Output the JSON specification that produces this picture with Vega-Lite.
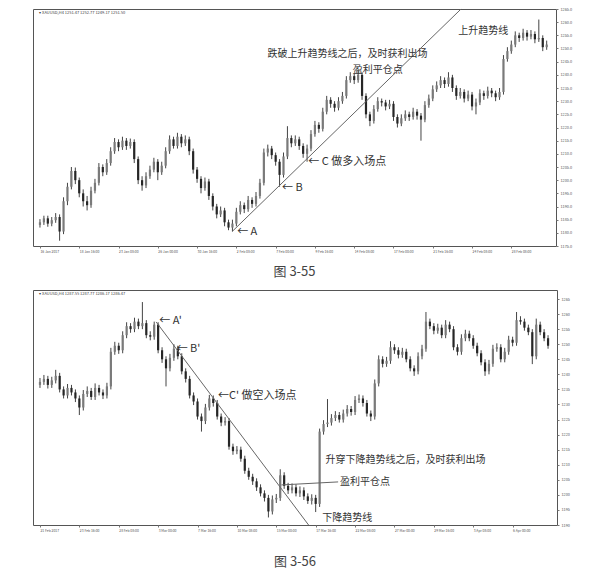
{
"$schema": "https://vega.github.io/schema/vega-lite/v6.json",
"background": "#ffffff",
"padding": {"left": 32, "top": 6, "right": 0, "bottom": 0},
"spacing": 9,
"config": {
  "view": {"stroke": "#555555", "strokeWidth": 1},
  "font": "Noto Sans CJK SC",
  "axis": {"grid": false, "domain": false, "ticks": true, "tickSize": 2, "tickColor": "#777777", "labelFontSize": 3.4, "labelColor": "#555555", "title": null, "labelPadding": 1},
  "title": {"fontSize": 13, "fontWeight": "normal", "color": "#444444", "font": "Noto Sans CJK SC"}
},
"datasets": {
"top": [
{"i":0,"o":1183.0,"h":1185.2,"l":1182.0,"c":1184.0},{"i":1,"o":1184.0,"h":1186.5,"l":1183.0,"c":1185.5},{"i":2,"o":1185.5,"h":1186.5,"l":1182.3,"c":1183.5},{"i":3,"o":1183.5,"h":1186.0,"l":1182.5,"c":1184.8},{"i":4,"o":1184.8,"h":1187.5,"l":1183.8,"c":1186.0},
{"i":5,"o":1186.0,"h":1187.0,"l":1177.0,"c":1180.5},{"i":6,"o":1180.5,"h":1193.5,"l":1179.5,"c":1192.0},{"i":7,"o":1192.0,"h":1199.0,"l":1190.5,"c":1197.5},{"i":8,"o":1197.5,"h":1205.0,"l":1196.5,"c":1203.5},{"i":9,"o":1203.5,"h":1204.8,"l":1198.5,"c":1200.0},
{"i":10,"o":1200.0,"h":1201.0,"l":1193.5,"c":1195.0},{"i":11,"o":1195.0,"h":1196.5,"l":1190.0,"c":1192.0},{"i":12,"o":1192.0,"h":1194.0,"l":1188.5,"c":1190.5},{"i":13,"o":1190.5,"h":1197.5,"l":1189.5,"c":1196.0},{"i":14,"o":1196.0,"h":1200.5,"l":1195.0,"c":1199.0},
{"i":15,"o":1199.0,"h":1206.5,"l":1198.0,"c":1205.0},{"i":16,"o":1205.0,"h":1206.0,"l":1201.5,"c":1203.0},{"i":17,"o":1203.0,"h":1208.0,"l":1202.0,"c":1206.5},{"i":18,"o":1206.5,"h":1212.5,"l":1205.5,"c":1211.0},{"i":19,"o":1211.0,"h":1216.0,"l":1210.0,"c":1214.5},
{"i":20,"o":1214.5,"h":1215.5,"l":1211.0,"c":1212.5},{"i":21,"o":1212.5,"h":1216.5,"l":1211.5,"c":1215.0},{"i":22,"o":1215.0,"h":1216.0,"l":1211.5,"c":1213.0},{"i":23,"o":1213.0,"h":1215.8,"l":1212.0,"c":1214.5},{"i":24,"o":1214.5,"h":1215.5,"l":1206.5,"c":1208.0},
{"i":25,"o":1208.0,"h":1209.0,"l":1198.5,"c":1200.0},{"i":26,"o":1200.0,"h":1201.5,"l":1196.0,"c":1198.0},{"i":27,"o":1198.0,"h":1203.0,"l":1197.0,"c":1201.5},{"i":28,"o":1201.5,"h":1205.5,"l":1200.5,"c":1204.0},{"i":29,"o":1204.0,"h":1208.5,"l":1203.0,"c":1207.0},
{"i":30,"o":1207.0,"h":1208.0,"l":1200.0,"c":1203.0},{"i":31,"o":1203.0,"h":1207.0,"l":1202.0,"c":1205.5},{"i":32,"o":1205.5,"h":1212.5,"l":1204.5,"c":1211.0},{"i":33,"o":1211.0,"h":1217.0,"l":1210.0,"c":1215.5},{"i":34,"o":1215.5,"h":1216.5,"l":1212.0,"c":1213.0},
{"i":35,"o":1213.0,"h":1218.0,"l":1212.0,"c":1216.5},{"i":36,"o":1216.5,"h":1217.5,"l":1212.5,"c":1214.0},{"i":37,"o":1214.0,"h":1217.0,"l":1213.0,"c":1215.5},{"i":38,"o":1215.5,"h":1216.5,"l":1209.5,"c":1211.0},{"i":39,"o":1211.0,"h":1212.0,"l":1202.5,"c":1204.0},
{"i":40,"o":1204.0,"h":1205.0,"l":1199.0,"c":1200.5},{"i":41,"o":1200.5,"h":1201.5,"l":1195.0,"c":1197.0},{"i":42,"o":1197.0,"h":1201.0,"l":1196.0,"c":1199.5},{"i":43,"o":1199.5,"h":1200.5,"l":1192.5,"c":1194.0},{"i":44,"o":1194.0,"h":1195.0,"l":1188.5,"c":1190.0},
{"i":45,"o":1190.0,"h":1191.0,"l":1185.5,"c":1187.0},{"i":46,"o":1187.0,"h":1190.0,"l":1186.0,"c":1188.5},{"i":47,"o":1188.5,"h":1189.5,"l":1182.5,"c":1184.0},{"i":48,"o":1184.0,"h":1185.0,"l":1181.0,"c":1182.0},{"i":49,"o":1182.0,"h":1185.0,"l":1180.5,"c":1183.5},
{"i":50,"o":1183.5,"h":1189.5,"l":1182.5,"c":1188.0},{"i":51,"o":1188.0,"h":1192.0,"l":1187.0,"c":1190.5},{"i":52,"o":1190.5,"h":1191.5,"l":1187.5,"c":1189.0},{"i":53,"o":1189.0,"h":1194.0,"l":1188.0,"c":1192.5},{"i":54,"o":1192.5,"h":1193.5,"l":1189.5,"c":1191.0},
{"i":55,"o":1191.0,"h":1195.5,"l":1190.0,"c":1194.0},{"i":56,"o":1194.0,"h":1200.5,"l":1193.0,"c":1199.0},{"i":57,"o":1199.0,"h":1212.0,"l":1198.0,"c":1210.5},{"i":58,"o":1210.5,"h":1213.5,"l":1209.0,"c":1212.0},{"i":59,"o":1212.0,"h":1213.0,"l":1208.0,"c":1209.5},
{"i":60,"o":1209.5,"h":1210.5,"l":1205.5,"c":1207.0},{"i":61,"o":1207.0,"h":1208.0,"l":1197.5,"c":1202.0},{"i":62,"o":1202.0,"h":1210.5,"l":1201.0,"c":1209.0},{"i":63,"o":1209.0,"h":1220.5,"l":1208.0,"c":1216.0},{"i":64,"o":1216.0,"h":1217.0,"l":1212.5,"c":1214.0},
{"i":65,"o":1214.0,"h":1217.0,"l":1213.0,"c":1215.5},{"i":66,"o":1215.5,"h":1216.5,"l":1211.5,"c":1213.0},{"i":67,"o":1213.0,"h":1214.0,"l":1208.5,"c":1210.0},{"i":68,"o":1210.0,"h":1213.5,"l":1207.0,"c":1212.0},{"i":69,"o":1212.0,"h":1219.0,"l":1211.0,"c":1217.5},
{"i":70,"o":1217.5,"h":1222.5,"l":1216.5,"c":1221.0},{"i":71,"o":1221.0,"h":1222.0,"l":1218.0,"c":1219.5},{"i":72,"o":1219.5,"h":1227.5,"l":1218.5,"c":1226.0},{"i":73,"o":1226.0,"h":1232.0,"l":1225.0,"c":1230.5},{"i":74,"o":1230.5,"h":1231.5,"l":1227.5,"c":1229.0},
{"i":75,"o":1229.0,"h":1230.0,"l":1226.0,"c":1227.5},{"i":76,"o":1227.5,"h":1231.5,"l":1226.5,"c":1230.0},{"i":77,"o":1230.0,"h":1233.5,"l":1229.0,"c":1232.0},{"i":78,"o":1232.0,"h":1239.5,"l":1231.0,"c":1238.0},{"i":79,"o":1238.0,"h":1241.0,"l":1237.0,"c":1239.5},
{"i":80,"o":1239.5,"h":1240.5,"l":1236.5,"c":1238.0},{"i":81,"o":1238.0,"h":1242.0,"l":1237.0,"c":1240.0},{"i":82,"o":1240.0,"h":1241.0,"l":1230.5,"c":1232.0},{"i":83,"o":1232.0,"h":1233.0,"l":1223.5,"c":1225.0},{"i":84,"o":1225.0,"h":1226.0,"l":1220.5,"c":1222.5},
{"i":85,"o":1222.5,"h":1228.5,"l":1221.5,"c":1227.0},{"i":86,"o":1227.0,"h":1231.5,"l":1226.0,"c":1230.0},{"i":87,"o":1230.0,"h":1231.0,"l":1228.0,"c":1229.5},{"i":88,"o":1229.5,"h":1230.5,"l":1226.5,"c":1228.0},{"i":89,"o":1228.0,"h":1230.5,"l":1227.0,"c":1229.0},
{"i":90,"o":1229.0,"h":1230.0,"l":1222.5,"c":1224.0},{"i":91,"o":1224.0,"h":1225.0,"l":1220.0,"c":1221.5},{"i":92,"o":1221.5,"h":1225.0,"l":1220.5,"c":1223.5},{"i":93,"o":1223.5,"h":1226.5,"l":1222.5,"c":1225.0},{"i":94,"o":1225.0,"h":1226.0,"l":1222.5,"c":1224.0},
{"i":95,"o":1224.0,"h":1227.5,"l":1223.0,"c":1226.0},{"i":96,"o":1226.0,"h":1227.0,"l":1223.0,"c":1224.5},{"i":97,"o":1224.5,"h":1225.5,"l":1215.0,"c":1223.0},{"i":98,"o":1223.0,"h":1230.0,"l":1222.0,"c":1228.5},{"i":99,"o":1228.5,"h":1232.5,"l":1227.5,"c":1231.0},
{"i":100,"o":1231.0,"h":1236.0,"l":1230.0,"c":1234.5},{"i":101,"o":1234.5,"h":1237.5,"l":1233.5,"c":1236.0},{"i":102,"o":1236.0,"h":1239.5,"l":1235.0,"c":1238.0},{"i":103,"o":1238.0,"h":1239.0,"l":1235.0,"c":1236.5},{"i":104,"o":1236.5,"h":1241.0,"l":1235.5,"c":1239.0},
{"i":105,"o":1239.0,"h":1240.0,"l":1233.5,"c":1235.0},{"i":106,"o":1235.0,"h":1236.0,"l":1230.5,"c":1232.0},{"i":107,"o":1232.0,"h":1235.0,"l":1231.0,"c":1233.5},{"i":108,"o":1233.5,"h":1234.5,"l":1229.5,"c":1231.0},{"i":109,"o":1231.0,"h":1234.0,"l":1230.0,"c":1232.5},
{"i":110,"o":1232.5,"h":1233.5,"l":1226.5,"c":1228.0},{"i":111,"o":1228.0,"h":1231.0,"l":1225.0,"c":1229.5},{"i":112,"o":1229.5,"h":1234.5,"l":1228.5,"c":1233.0},{"i":113,"o":1233.0,"h":1234.0,"l":1230.5,"c":1232.0},{"i":114,"o":1232.0,"h":1235.5,"l":1231.0,"c":1234.0},
{"i":115,"o":1234.0,"h":1235.0,"l":1231.5,"c":1233.0},{"i":116,"o":1233.0,"h":1234.0,"l":1230.0,"c":1231.5},{"i":117,"o":1231.5,"h":1235.0,"l":1230.5,"c":1233.5},{"i":118,"o":1233.5,"h":1247.5,"l":1232.5,"c":1246.0},{"i":119,"o":1246.0,"h":1250.5,"l":1245.0,"c":1249.0},
{"i":120,"o":1249.0,"h":1253.0,"l":1248.0,"c":1251.5},{"i":121,"o":1251.5,"h":1256.5,"l":1250.5,"c":1255.0},{"i":122,"o":1255.0,"h":1256.0,"l":1252.5,"c":1254.0},{"i":123,"o":1254.0,"h":1257.5,"l":1253.0,"c":1256.0},{"i":124,"o":1256.0,"h":1257.0,"l":1253.0,"c":1254.5},
{"i":125,"o":1254.5,"h":1257.0,"l":1253.5,"c":1255.5},{"i":126,"o":1255.5,"h":1256.5,"l":1252.0,"c":1253.5},{"i":127,"o":1253.5,"h":1261.0,"l":1252.5,"c":1254.0},{"i":128,"o":1254.0,"h":1255.0,"l":1249.0,"c":1250.5},{"i":129,"o":1250.5,"h":1253.0,"l":1249.5,"c":1251.5}
],
"bot": [
{"i":0,"o":1236.5,"h":1238.8,"l":1235.5,"c":1237.5},{"i":1,"o":1237.5,"h":1239.8,"l":1236.5,"c":1238.5},{"i":2,"o":1238.5,"h":1239.5,"l":1235.3,"c":1236.5},{"i":3,"o":1236.5,"h":1239.2,"l":1235.5,"c":1238.0},{"i":4,"o":1238.0,"h":1241.5,"l":1237.0,"c":1239.5},
{"i":5,"o":1239.5,"h":1240.5,"l":1234.0,"c":1235.0},{"i":6,"o":1235.0,"h":1236.0,"l":1232.0,"c":1233.0},{"i":7,"o":1233.0,"h":1236.8,"l":1232.0,"c":1235.5},{"i":8,"o":1235.5,"h":1236.5,"l":1233.0,"c":1234.0},{"i":9,"o":1234.0,"h":1235.0,"l":1230.8,"c":1232.0},
{"i":10,"o":1232.0,"h":1233.0,"l":1226.5,"c":1229.0},{"i":11,"o":1229.0,"h":1234.8,"l":1228.0,"c":1233.5},{"i":12,"o":1233.5,"h":1236.0,"l":1232.5,"c":1234.5},{"i":13,"o":1234.5,"h":1235.5,"l":1231.5,"c":1232.5},{"i":14,"o":1232.5,"h":1237.0,"l":1231.5,"c":1235.5},
{"i":15,"o":1235.5,"h":1236.5,"l":1233.0,"c":1234.0},{"i":16,"o":1234.0,"h":1235.0,"l":1231.8,"c":1233.0},{"i":17,"o":1233.0,"h":1237.2,"l":1232.0,"c":1236.0},{"i":18,"o":1236.0,"h":1248.8,"l":1235.0,"c":1247.5},{"i":19,"o":1247.5,"h":1250.8,"l":1246.5,"c":1249.5},
{"i":20,"o":1249.5,"h":1250.5,"l":1246.8,"c":1248.0},{"i":21,"o":1248.0,"h":1254.3,"l":1247.0,"c":1253.0},{"i":22,"o":1253.0,"h":1257.3,"l":1252.0,"c":1256.0},{"i":23,"o":1256.0,"h":1257.0,"l":1253.8,"c":1255.0},{"i":24,"o":1255.0,"h":1258.8,"l":1254.0,"c":1257.5},
{"i":25,"o":1257.5,"h":1258.5,"l":1255.0,"c":1256.0},{"i":26,"o":1256.0,"h":1264.0,"l":1255.0,"c":1257.0},{"i":27,"o":1257.0,"h":1258.0,"l":1252.0,"c":1253.0},{"i":28,"o":1253.0,"h":1254.3,"l":1251.3,"c":1252.5},{"i":29,"o":1252.5,"h":1257.5,"l":1251.5,"c":1256.5},
{"i":30,"o":1256.5,"h":1257.3,"l":1247.0,"c":1248.0},{"i":31,"o":1248.0,"h":1249.0,"l":1243.8,"c":1245.0},{"i":32,"o":1245.0,"h":1246.0,"l":1236.0,"c":1242.0},{"i":33,"o":1242.0,"h":1246.8,"l":1241.0,"c":1245.5},{"i":34,"o":1245.5,"h":1250.0,"l":1244.5,"c":1248.5},
{"i":35,"o":1248.5,"h":1249.5,"l":1245.0,"c":1246.0},{"i":36,"o":1246.0,"h":1247.0,"l":1240.0,"c":1241.0},{"i":37,"o":1241.0,"h":1242.0,"l":1237.3,"c":1238.5},{"i":38,"o":1238.5,"h":1239.5,"l":1232.0,"c":1233.0},{"i":39,"o":1233.0,"h":1234.0,"l":1229.8,"c":1231.0},
{"i":40,"o":1231.0,"h":1232.0,"l":1225.0,"c":1226.0},{"i":41,"o":1226.0,"h":1227.0,"l":1221.0,"c":1224.5},{"i":42,"o":1224.5,"h":1230.2,"l":1223.5,"c":1229.0},{"i":43,"o":1229.0,"h":1233.2,"l":1228.0,"c":1232.0},{"i":44,"o":1232.0,"h":1233.0,"l":1229.3,"c":1230.5},
{"i":45,"o":1230.5,"h":1231.5,"l":1225.0,"c":1226.0},{"i":46,"o":1226.0,"h":1227.0,"l":1222.8,"c":1224.0},{"i":47,"o":1224.0,"h":1225.8,"l":1223.0,"c":1224.5},{"i":48,"o":1224.5,"h":1225.5,"l":1215.0,"c":1216.0},{"i":49,"o":1216.0,"h":1217.0,"l":1213.3,"c":1214.5},
{"i":50,"o":1214.5,"h":1216.2,"l":1213.5,"c":1215.0},{"i":51,"o":1215.0,"h":1216.0,"l":1211.0,"c":1212.0},{"i":52,"o":1212.0,"h":1213.0,"l":1207.0,"c":1208.0},{"i":53,"o":1208.0,"h":1209.0,"l":1205.0,"c":1206.0},{"i":54,"o":1206.0,"h":1207.0,"l":1203.3,"c":1204.5},
{"i":55,"o":1204.5,"h":1205.5,"l":1201.3,"c":1202.5},{"i":56,"o":1202.5,"h":1203.5,"l":1199.5,"c":1200.5},{"i":57,"o":1200.5,"h":1201.5,"l":1197.8,"c":1199.0},{"i":58,"o":1199.0,"h":1200.0,"l":1192.5,"c":1194.5},{"i":59,"o":1194.5,"h":1199.8,"l":1193.5,"c":1198.5},
{"i":60,"o":1198.5,"h":1200.3,"l":1197.3,"c":1199.0},{"i":61,"o":1199.0,"h":1208.5,"l":1198.0,"c":1206.5},{"i":62,"o":1206.5,"h":1207.5,"l":1202.0,"c":1203.0},{"i":63,"o":1203.0,"h":1204.0,"l":1200.3,"c":1201.5},{"i":64,"o":1201.5,"h":1203.8,"l":1200.5,"c":1202.5},
{"i":65,"o":1202.5,"h":1203.5,"l":1199.5,"c":1200.5},{"i":66,"o":1200.5,"h":1202.8,"l":1199.3,"c":1201.5},{"i":67,"o":1201.5,"h":1202.5,"l":1198.3,"c":1199.5},{"i":68,"o":1199.5,"h":1200.5,"l":1197.0,"c":1198.0},{"i":69,"o":1198.0,"h":1200.2,"l":1196.8,"c":1199.0},
{"i":70,"o":1199.0,"h":1200.0,"l":1194.3,"c":1197.0},{"i":71,"o":1197.0,"h":1222.0,"l":1196.0,"c":1221.0},{"i":72,"o":1221.0,"h":1224.8,"l":1220.0,"c":1223.5},{"i":73,"o":1223.5,"h":1231.8,"l":1222.5,"c":1224.0},{"i":74,"o":1224.0,"h":1226.8,"l":1223.0,"c":1225.5},
{"i":75,"o":1225.5,"h":1227.8,"l":1224.5,"c":1226.5},{"i":76,"o":1226.5,"h":1227.5,"l":1224.0,"c":1225.0},{"i":77,"o":1225.0,"h":1228.3,"l":1224.0,"c":1227.0},{"i":78,"o":1227.0,"h":1229.8,"l":1226.0,"c":1228.5},{"i":79,"o":1228.5,"h":1229.5,"l":1226.3,"c":1227.5},
{"i":80,"o":1227.5,"h":1232.8,"l":1226.5,"c":1231.5},{"i":81,"o":1231.5,"h":1233.3,"l":1230.5,"c":1232.0},{"i":82,"o":1232.0,"h":1233.0,"l":1229.3,"c":1230.5},{"i":83,"o":1230.5,"h":1231.5,"l":1226.0,"c":1227.0},{"i":84,"o":1227.0,"h":1228.0,"l":1224.5,"c":1226.0},
{"i":85,"o":1226.0,"h":1238.3,"l":1225.0,"c":1237.0},{"i":86,"o":1237.0,"h":1246.3,"l":1236.0,"c":1245.0},{"i":87,"o":1245.0,"h":1246.0,"l":1242.3,"c":1243.5},{"i":88,"o":1243.5,"h":1245.8,"l":1242.5,"c":1244.5},{"i":89,"o":1244.5,"h":1251.0,"l":1243.5,"c":1249.0},
{"i":90,"o":1249.0,"h":1250.0,"l":1246.8,"c":1248.0},{"i":91,"o":1248.0,"h":1249.0,"l":1245.3,"c":1246.5},{"i":92,"o":1246.5,"h":1248.8,"l":1245.5,"c":1247.5},{"i":93,"o":1247.5,"h":1248.5,"l":1244.0,"c":1245.0},{"i":94,"o":1245.0,"h":1246.0,"l":1241.0,"c":1242.0},
{"i":95,"o":1242.0,"h":1243.0,"l":1239.5,"c":1241.0},{"i":96,"o":1241.0,"h":1247.3,"l":1240.0,"c":1246.0},{"i":97,"o":1246.0,"h":1249.8,"l":1245.0,"c":1248.5},{"i":98,"o":1248.5,"h":1260.7,"l":1247.5,"c":1257.5},{"i":99,"o":1257.5,"h":1258.5,"l":1255.0,"c":1256.0},
{"i":100,"o":1256.0,"h":1257.0,"l":1253.3,"c":1254.5},{"i":101,"o":1254.5,"h":1256.8,"l":1253.5,"c":1255.5},{"i":102,"o":1255.5,"h":1256.5,"l":1252.0,"c":1253.0},{"i":103,"o":1253.0,"h":1258.0,"l":1252.0,"c":1256.5},{"i":104,"o":1256.5,"h":1257.5,"l":1254.0,"c":1255.0},
{"i":105,"o":1255.0,"h":1256.0,"l":1248.0,"c":1249.0},{"i":106,"o":1249.0,"h":1250.0,"l":1246.3,"c":1247.5},{"i":107,"o":1247.5,"h":1253.3,"l":1246.5,"c":1252.0},{"i":108,"o":1252.0,"h":1254.8,"l":1251.0,"c":1253.5},{"i":109,"o":1253.5,"h":1254.5,"l":1251.0,"c":1252.0},
{"i":110,"o":1252.0,"h":1253.0,"l":1248.5,"c":1249.5},{"i":111,"o":1249.5,"h":1250.5,"l":1246.0,"c":1247.0},{"i":112,"o":1247.0,"h":1248.0,"l":1243.0,"c":1244.0},{"i":113,"o":1244.0,"h":1245.0,"l":1239.5,"c":1241.0},{"i":114,"o":1241.0,"h":1244.8,"l":1240.0,"c":1243.5},
{"i":115,"o":1243.5,"h":1249.8,"l":1242.5,"c":1248.5},{"i":116,"o":1248.5,"h":1250.3,"l":1247.5,"c":1249.0},{"i":117,"o":1249.0,"h":1250.0,"l":1244.0,"c":1245.0},{"i":118,"o":1245.0,"h":1248.8,"l":1244.0,"c":1247.5},{"i":119,"o":1247.5,"h":1252.8,"l":1246.5,"c":1251.5},
{"i":120,"o":1251.5,"h":1252.5,"l":1249.3,"c":1250.5},{"i":121,"o":1250.5,"h":1260.7,"l":1249.5,"c":1258.0},{"i":122,"o":1258.0,"h":1259.3,"l":1256.5,"c":1257.5},{"i":123,"o":1257.5,"h":1258.5,"l":1254.5,"c":1255.5},{"i":124,"o":1255.5,"h":1256.5,"l":1253.0,"c":1254.0},
{"i":125,"o":1254.0,"h":1255.0,"l":1243.4,"c":1246.0},{"i":126,"o":1246.0,"h":1258.5,"l":1245.0,"c":1256.5},{"i":127,"o":1256.5,"h":1257.5,"l":1253.0,"c":1254.0},{"i":128,"o":1254.0,"h":1255.0,"l":1251.0,"c":1252.0},{"i":129,"o":1252.0,"h":1253.0,"l":1248.5,"c":1249.5}
]
},
"vconcat": [
{
  "width": 523, "height": 237,
  "title": {"text": "图 3-55", "orient": "bottom", "anchor": "middle", "offset": 14},
  "layer": [
    {"data": {"name": "top"}, "mark": {"type": "rule", "color": "#444444", "strokeWidth": 1},
     "encoding": {
       "x": {"field": "i", "type": "quantitative", "scale": {"domain": [-0.5, 130.1], "nice": false, "zero": false},
             "axis": {"orient": "bottom", "values": [0,5,10,15,20,25,30,35,40,45,50,55,60,65,70,75,80,85,90,95,100,105,110,115,120,125], "labelAlign": "left", "labelAngle": 0, "labelOverlap": false, "labelFlush": false, "labelSeparation": 0,
             "labelExpr": "['16 Jan 2017','17 Jan 08:00','18 Jan 16:00','20 Jan 00:00','23 Jan 08:00','24 Jan 16:00','26 Jan 00:00','27 Jan 08:00','30 Jan 16:00','1 Feb 00:00','2 Feb 08:00','3 Feb 16:00','7 Feb 00:00','8 Feb 08:00','9 Feb 16:00','13 Feb 00:00','14 Feb 08:00','15 Feb 16:00','17 Feb 00:00','20 Feb 08:00','21 Feb 16:00','23 Feb 00:00','24 Feb 08:00','27 Feb 16:00','28 Feb 08:00','28 Feb 20:00'][round(datum.value/5)]"}},
       "y": {"field": "l", "type": "quantitative", "scale": {"domain": [1175, 1265], "nice": false, "zero": false},
             "axis": {"orient": "right", "tickCount": 20, "format": ".1f", "labelPadding": 2, "labelFontSize": 3.8}},
       "y2": {"field": "h"}
     }},
    {"data": {"name": "top"}, "mark": {"type": "bar", "width": 2.2},
     "encoding": {
       "x": {"field": "i", "type": "quantitative"},
       "y": {"field": "o", "type": "quantitative"},
       "y2": {"field": "c"},
       "color": {"condition": {"test": "datum.c >= datum.o", "value": "#7a7a7a"}, "value": "#262626"}
     }},
    {"data": {"values": [{"x": 49, "y": 1180.6, "x2": 107.2, "y2": 1265}]}, "mark": {"type": "rule", "color": "#666666", "strokeWidth": 1},
     "encoding": {"x": {"field": "x", "type": "quantitative"}, "y": {"field": "y", "type": "quantitative"}, "x2": {"field": "x2"}, "y2": {"field": "y2"}}},
    {"data": {"values": [
        {"i": 50.2, "p": 1180.3, "t": "← A"},
        {"i": 61.6, "p": 1197.0, "t": "← B"},
        {"i": 68.3, "p": 1206.9, "t": "← C  做多入场点"}
      ]},
     "mark": {"type": "text", "align": "left", "baseline": "middle", "fontSize": 11, "color": "#333333", "font": "Noto Sans CJK SC"},
     "encoding": {"x": {"field": "i", "type": "quantitative"}, "y": {"field": "p", "type": "quantitative"}, "text": {"field": "t"}}},
    {"data": {"values": [
        {"i": 57.9, "p": 1247.8, "t": "跌破上升趋势线之后，及时获利出场"},
        {"i": 79.6, "p": 1242.0, "t": "盈利平仓点"},
        {"i": 106.5, "p": 1256.6, "t": "上升趋势线"}
      ]},
     "mark": {"type": "text", "align": "left", "baseline": "middle", "fontSize": 10, "color": "#333333", "font": "Noto Sans CJK SC"},
     "encoding": {"x": {"field": "i", "type": "quantitative"}, "y": {"field": "p", "type": "quantitative"}, "text": {"field": "t"}}},
    {"data": {"values": [{"i": -0.2, "p": 1263.6, "t": "▾ XAUUSD,H4  1251.47 1252.77 1249.17 1251.50"}]},
     "mark": {"type": "text", "align": "left", "baseline": "middle", "fontSize": 4, "color": "#444444"},
     "encoding": {"x": {"field": "i", "type": "quantitative"}, "y": {"field": "p", "type": "quantitative"}, "text": {"field": "t"}}}
  ]
},
{
  "width": 524, "height": 235,
  "title": {"text": "图 3-56", "orient": "bottom", "anchor": "middle", "offset": 25},
  "layer": [
    {"data": {"name": "bot"}, "mark": {"type": "rule", "color": "#444444", "strokeWidth": 1},
     "encoding": {
       "x": {"field": "i", "type": "quantitative", "scale": {"domain": [-0.5, 130], "nice": false, "zero": false},
             "axis": {"orient": "bottom", "values": [0,5,10,15,20,25,30,35,40,45,50,55,60,65,70,75,80,85,90,95,100,105,110,115,120,125], "labelAlign": "left", "labelAngle": 0, "labelOverlap": false, "labelFlush": false, "labelSeparation": 0,
             "labelExpr": "['21 Feb 2017','22 Feb 08:00','23 Feb 16:00','27 Feb 00:00','28 Feb 08:00','1 Mar 16:00','3 Mar 00:00','6 Mar 08:00','7 Mar 16:00','9 Mar 00:00','10 Mar 08:00','13 Mar 16:00','15 Mar 00:00','16 Mar 08:00','17 Mar 16:00','21 Mar 00:00','22 Mar 08:00','23 Mar 16:00','27 Mar 00:00','28 Mar 08:00','29 Mar 16:00','31 Mar 00:00','3 Apr 08:00','4 Apr 16:00','6 Apr 00:00','6 Apr 16:00'][round(datum.value/5)]"}},
       "y": {"field": "l", "type": "quantitative", "scale": {"domain": [1190, 1268], "nice": false, "zero": false},
             "axis": {"orient": "right", "tickCount": 20, "format": "d", "labelPadding": 2, "labelFontSize": 3.8}},
       "y2": {"field": "h"}
     }},
    {"data": {"name": "bot"}, "mark": {"type": "bar", "width": 2.2},
     "encoding": {
       "x": {"field": "i", "type": "quantitative"},
       "y": {"field": "o", "type": "quantitative"},
       "y2": {"field": "c"},
       "color": {"condition": {"test": "datum.c >= datum.o", "value": "#7a7a7a"}, "value": "#262626"}
     }},
    {"data": {"values": [
        {"x": 29.5, "y": 1257.4, "x2": 68.2, "y2": 1190},
        {"x": 61.3, "y": 1203.3, "x2": 75.7, "y2": 1204.3}
      ]}, "mark": {"type": "rule", "color": "#666666", "strokeWidth": 1},
     "encoding": {"x": {"field": "x", "type": "quantitative"}, "y": {"field": "y", "type": "quantitative"}, "x2": {"field": "x2"}, "y2": {"field": "y2"}}},
    {"data": {"values": [
        {"i": 30.3, "p": 1257.7, "t": "← A'"},
        {"i": 34.7, "p": 1248.4, "t": "← B'"},
        {"i": 45.2, "p": 1232.8, "t": "←C'  做空入场点"}
      ]},
     "mark": {"type": "text", "align": "left", "baseline": "middle", "fontSize": 11, "color": "#333333", "font": "Noto Sans CJK SC"},
     "encoding": {"x": {"field": "i", "type": "quantitative"}, "y": {"field": "p", "type": "quantitative"}, "text": {"field": "t"}}},
    {"data": {"values": [
        {"i": 72.5, "p": 1211.6, "t": "升穿下降趋势线之后，及时获利出场"},
        {"i": 76.2, "p": 1204.3, "t": "盈利平仓点"},
        {"i": 71.7, "p": 1192.2, "t": "下降趋势线"}
      ]},
     "mark": {"type": "text", "align": "left", "baseline": "middle", "fontSize": 10, "color": "#333333", "font": "Noto Sans CJK SC"},
     "encoding": {"x": {"field": "i", "type": "quantitative"}, "y": {"field": "p", "type": "quantitative"}, "text": {"field": "t"}}},
    {"data": {"values": [{"i": -0.2, "p": 1266.8, "t": "▾ XAUUSD,H4  1287.55 1287.77 1286.17 1286.47"}]},
     "mark": {"type": "text", "align": "left", "baseline": "middle", "fontSize": 4, "color": "#444444"},
     "encoding": {"x": {"field": "i", "type": "quantitative"}, "y": {"field": "p", "type": "quantitative"}, "text": {"field": "t"}}}
  ]
}
]
}
